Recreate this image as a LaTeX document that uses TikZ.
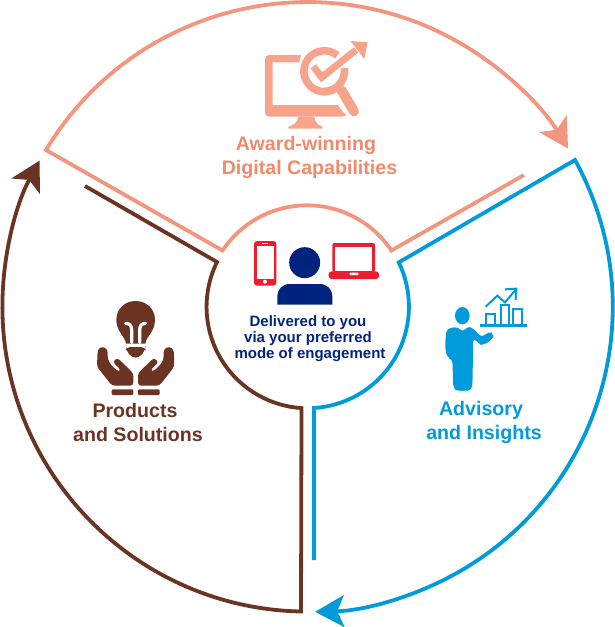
\documentclass[tikz,border=0pt]{standalone}
\usepackage{fontspec}
\setmainfont{Liberation Sans}
\usetikzlibrary{arrows.meta}
\definecolor{peachline}{HTML}{F4967F}
\definecolor{peachicon}{HTML}{F8A48C}
\definecolor{peachtext}{HTML}{F08A6C}
\definecolor{blueline}{HTML}{009BDA}
\definecolor{brownline}{HTML}{6B3322}
\definecolor{navyc}{HTML}{00247D}
\definecolor{redc}{HTML}{ED1C2E}
\tikzset{
  ringline/.style={line width=3.8pt,line join=miter,miter limit=10,
    -{Stealth[length=29pt,width=32pt,inset=7pt]}},
  labeltext/.style={font=\bfseries\fontsize{19.6}{24}\selectfont,align=center,inner sep=0pt},
  centertext/.style={font=\bfseries\fontsize{15}{16}\selectfont,align=center,inner sep=0pt,text=navyc},
  zoomA/.style={shift={(200,0)},scale=1/3},
  zoomB/.style={shift={(200,195)},scale=1/3},
  zoomC/.style={shift={(60,290)},scale=1/3},
  zoomD/.style={shift={(420,270)},scale=1/3},
}
\begin{document}
\begin{tikzpicture}[x=1pt,y=-1pt]
\useasboundingbox (0,0) rectangle (615,627);
% connector corners
\coordinate (pStart) at (524,175);
\coordinate (pInner) at (391.4,250.5);
\coordinate (pOuter) at (46,150);
\coordinate (bStart) at (314,560);
\coordinate (bInner) at (314,408);
\coordinate (bOuter) at (575,160);
\coordinate (rStart) at (85,186);
\coordinate (rInner) at (217,262);
\coordinate (rOuter) at (301,611.5);
% rings
\draw[ringline,color=peachline] (pStart) -- (pInner) arc[start angle=-33.7,end angle=-146.3,radius=101.5] -- (pOuter) arc[start angle=211,end angle=328.7,radius=305];
\draw[ringline,color=blueline] (bStart) -- (bInner) arc[start angle=86.3,end angle=-25.9,radius=101.5] -- (bOuter) arc[start angle=-28.8,end angle=88.6,radius=305];
\draw[ringline,color=brownline] (rStart) -- (rInner) arc[start angle=206.2,end angle=93.7,radius=101.5] -- (rOuter) arc[start angle=91.2,end angle=208.6,radius=305];

% monitor icon
\begin{scope}[zoomA]
  \fill[peachicon,rounded corners=4pt] (303,165) -- (195,165) -- (195,350) -- (441,350) -- (441,350) [sharp corners] -- (413,315) -- (218,315) -- (218,187) -- (298,187) -- cycle;
  \fill[peachicon] (295,350) -- (343,350) .. controls (345,368) and (355,376) .. (368,380) -- (368,386) -- (265,386) -- (265,380) .. controls (280,376) and (293,368) .. (295,350) -- cycle;
  \draw[peachicon,line width=7.6pt] (412,166) arc[start angle=-51,end angle=-309,radius=61.5];
  \draw[peachicon,line width=7.6pt] (372,274.5) arc[start angle=90,end angle=-8,radius=61.5];
  \draw[peachicon,line width=10pt,line cap=round] (425,272) -- (462,334);
  \fill[peachicon] (415,268) -- (437,262) -- (450,285) -- (425,290) -- cycle;
  \draw[peachicon,line width=7pt,line join=miter] (340,199) -- (365,232) -- (468,150);
  \fill[peachicon] (503,127) -- (452,123) -- (493,177) -- cycle;
\end{scope}

% centre icons
\begin{scope}[zoomB]
  \fill[redc,rounded corners=3pt] (162,138) rectangle (229,272);
  \fill[white] (170,152) rectangle (222,253);
  \fill[white] (187,143.5) rectangle (205,147);
  \fill[white] (195,260) circle[radius=6];
  \fill[redc,rounded corners=2pt] (397,144) rectangle (525,232);
  \fill[white] (406,157) rectangle (516,227);
  \fill[redc,rounded corners=3pt] (386,229) rectangle (537,252);
  \fill[white,rounded corners=1pt] (448,233) rectangle (476,240);
  \fill[navyc] (314,203) circle[radius=46.5];
  \fill[navyc] (232,329) -- (232,305) .. controls (232,282) and (248,267) .. (270,267) -- (359,267) .. controls (381,267) and (397,282) .. (397,305) -- (397,329) -- cycle;
\end{scope}

% bulb and hands icon
\begin{scope}[zoomC]
  \fill[brownline] (198,161) -- (256,161) .. controls (258,140) and (285,125) .. (285,90) .. controls (285,55) and (258,33) .. (227,33) .. controls (196,33) and (169,55) .. (169,90) .. controls (169,125) and (196,140) .. (198,161) -- cycle;
  \draw[white,line width=3.2pt,line cap=round] (197,100) .. controls (210,100) and (215,108) .. (215,120) -- (215,158);
  \draw[white,line width=3.2pt,line cap=round] (257,100) .. controls (244,100) and (239,108) .. (239,120) -- (239,158);
  \fill[brownline,rounded corners=4pt] (198,171) -- (256,171) -- (256,180) -- (238,203) -- (216,203) -- (198,180) -- cycle;
  \foreach \sx/\ox in {1/0,-1/454}{
    \begin{scope}[shift={(\ox,0)},xscale=\sx]
      \fill[brownline,rounded corners=3pt] (113,178) -- (127,169) -- (143,178) -- (143,208) -- (154,226) -- (176,246) -- (183,240) -- (158,216) -- (172,203) -- (220,250) -- (220,287) -- (156,287) -- (111,230) -- cycle;
      \fill[brownline,rounded corners=1pt] (155,298) rectangle (220,315);
    \end{scope}
  }
\end{scope}

% man and chart icon
\begin{scope}[zoomD]
  \fill[blueline] (127,137) ellipse[x radius=22,y radius=26];
  \fill[blueline,rounded corners=4pt] (115,170) -- (128,188) -- (140,170) -- (157,172) -- (185,203) -- (207,184) -- (222,192) -- (218,207) -- (190,226) -- (176,222) -- (160,203) -- (157,355) -- (140,366) -- (128,358) -- (115,366) -- (100,355) -- (97,267) -- (80,262) -- (75,225) -- (80,176) -- cycle;
  \draw[blueline,line width=2.4pt] (180,166) -- (321,166);
  \draw[blueline,line width=2pt] (197,163) -- (197,132) -- (225,132) -- (225,163);
  \draw[blueline,line width=2pt] (243,163) -- (243,105) -- (268,105) -- (268,163);
  \draw[blueline,line width=2pt] (280,163) -- (280,117) -- (305,117) -- (305,163);
  \draw[blueline,line width=2pt] (197,110) -- (232,77) -- (255,97) -- (288,58);
  \draw[blueline,line width=2pt] (255,58) -- (289,56) -- (287,90);
\end{scope}

% labels
\node[labeltext,text=peachtext] (award) at (309.5,157.5) {Award-winning\kern7pt\\Digital Capabilities};
\node[labeltext,text=brownline] (products) at (138,422) {Products\kern6pt\\and Solutions};
\node[labeltext,text=blueline] (advisory) at (484,422) {Advisory\kern6pt\\and Insights};
\node[centertext] (delivered) at (310,339) {Delivered to you\kern4pt\\via your preferred\kern4pt\\mode of engagement};
\end{tikzpicture}
\end{document}
